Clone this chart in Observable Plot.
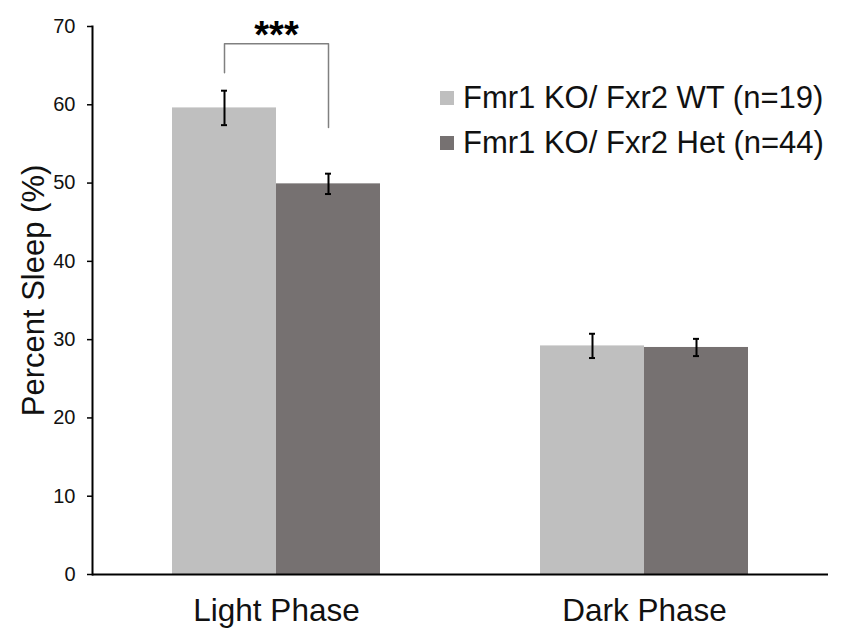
<!DOCTYPE html>
<html><head><meta charset="utf-8">
<script src="https://cdn.jsdelivr.net/npm/d3@7"></script>
<script src="https://cdn.jsdelivr.net/npm/@observablehq/plot@0.6"></script>
<style>
body{margin:0;background:#fff;font-family:"Liberation Sans",Arial,sans-serif}
#wrap{position:relative;width:850px;height:644px}
#legend{position:absolute;left:440px;top:75px;font-size:31px;color:#111}
.row{display:flex;align-items:center;height:45px;white-space:nowrap}
.sw{width:14px;height:14px;margin-right:9px;flex:none}
</style></head><body><div id="wrap"><div id="legend"></div></div>
<script>
const phases = ["Light Phase", "Dark Phase"];
const genotypes = ["Fmr1 KO/ Fxr2 WT (n=19)", "Fmr1 KO/ Fxr2 Het (n=44)"];
const wtMeans = [59.6, 29.2];
const wtErrors = [2.2, 1.55];
const hetMeans = [49.9, 29.0];
const hetErrors = [1.3, 1.1];
const yTicks = [0, 10, 20, 30, 40, 50, 60, 70];
const colors = ["#bfbfbf", "#767171"];
const yLabel = "Percent Sleep (%)";
const sigPhase = "Light Phase";
const sigLabel = "***";
const bracketGenotype = [genotypes[0], genotypes[0], genotypes[1], genotypes[1]];
const bracketY = [64.1, 67.8, 67.8, 57.1];
const sigY = 70;

const data = [];
phases.forEach((p, i) => {
  data.push({phase: p, genotype: genotypes[0], mean: wtMeans[i], err: wtErrors[i]});
  data.push({phase: p, genotype: genotypes[1], mean: hetMeans[i], err: hetErrors[i]});
});
const bracket = bracketGenotype.map((g, i) => ({phase: sigPhase, genotype: g, y: bracketY[i]}));

const chart = Plot.plot({
  width: 850,
  height: 644,
  marginTop: 26,
  marginBottom: 70,
  marginLeft: 91,
  marginRight: 22,
  style: {fontFamily: "'Liberation Sans', Arial, sans-serif", fontSize: "20px", color: "#111", background: "transparent"},
  fx: {domain: phases, padding: 0},
  x: {domain: genotypes, paddingInner: 0, paddingOuter: 0.755, axis: null},
  y: {domain: [0, 70]},
  color: {domain: genotypes, range: colors},
  marks: [
    Plot.barY(data, {fx: "phase", x: "genotype", y: "mean", fill: "genotype"}),
    Plot.ruleX(data, {fx: "phase", x: "genotype", y1: d => d.mean - d.err, y2: d => d.mean + d.err, stroke: "#000", strokeWidth: 2}),
    Plot.tickY(data, {fx: "phase", x: "genotype", y: d => d.mean - d.err, stroke: "#000", strokeWidth: 2, insetLeft: 49, insetRight: 49}),
    Plot.tickY(data, {fx: "phase", x: "genotype", y: d => d.mean + d.err, stroke: "#000", strokeWidth: 2, insetLeft: 49, insetRight: 49}),
    Plot.line(bracket, {fx: "phase", x: "genotype", y: "y", stroke: "#808080", strokeWidth: 1.5}),
    Plot.text([sigLabel], {fx: () => sigPhase, y: () => sigY, text: d => d, fontSize: 38, fontWeight: "bold", fill: "#000", dy: 9}),
    Plot.ruleY([0], {stroke: "#000", strokeWidth: 2}),
    Plot.frame({anchor: "left", facetAnchor: "left", stroke: "#000", strokeWidth: 2}),
    Plot.axisY({ticks: yTicks, tickSize: 5, tickPadding: 12, fontSize: 20, label: null, stroke: "#000", strokeWidth: 1.5}),
    Plot.axisFx({anchor: "bottom", tickSize: 0, tickPadding: 24, fontSize: 31.5, label: null}),
    Plot.text([yLabel], {fx: () => phases[0], frameAnchor: "left", rotate: -90, textAnchor: "middle", dx: -58, dy: -10, fontSize: 31, text: d => d, fill: "#111"})
  ]
});
const wrap = document.getElementById("wrap");
wrap.insertBefore(chart, wrap.firstChild);
const color = chart.scale("color");
const legend = document.getElementById("legend");
genotypes.forEach(g => {
  const row = document.createElement("div");
  row.className = "row";
  const sw = document.createElement("span");
  sw.className = "sw";
  sw.style.background = color.apply(g);
  const t = document.createElement("span");
  t.textContent = g;
  row.appendChild(sw);
  row.appendChild(t);
  legend.appendChild(row);
});
</script></body></html>
